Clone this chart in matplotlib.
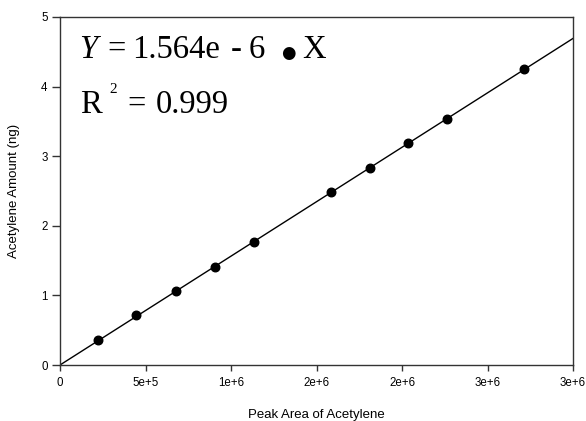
import matplotlib
matplotlib.use("Agg")
import matplotlib.pyplot as plt
import numpy as np
from matplotlib.ticker import FixedLocator, FixedFormatter

peak_area = [222e3, 444e3, 678e3, 906e3, 1134e3, 1585e3, 1813e3, 2035e3, 2263e3, 2713e3]
amount_ng = [0.36, 0.72, 1.06, 1.41, 1.77, 2.49, 2.83, 3.19, 3.53, 4.25]
slope = 1.564e-6
x_ticks = [0, 0.5e6, 1.0e6, 1.5e6, 2.0e6, 2.5e6, 3.0e6]
x_tick_labels = ["0", "5e+5", "1e+6", "2e+6", "2e+6", "3e+6", "3e+6"]
y_ticks = [0, 1, 2, 3, 4, 5]

plt.rcParams['font.family'] = ['Liberation Sans', 'DejaVu Sans']
fig = plt.figure(figsize=(5.86, 4.21), dpi=100)
ax = fig.add_axes([60/586, 1-365/421, 513/586, 348/421])

xl = np.array([0, 3.0e6])
ax.plot(xl, slope*xl, color='black', lw=1.0, zorder=2)
ax.scatter(peak_area, amount_ng, s=38, color='black', zorder=3)

ax.set_xlim(0, 3.0e6)
ax.set_ylim(0, 5)
ax.xaxis.set_major_locator(FixedLocator(x_ticks))
ax.xaxis.set_major_formatter(FixedFormatter(x_tick_labels))
ax.set_yticks(y_ticks)
ax.tick_params(direction='out', width=1, labelsize=8.3, color='#333333')
ax.tick_params(axis='x', length=4, pad=5)
ax.tick_params(axis='y', length=6, pad=3)
for s in ax.spines.values():
    s.set_linewidth(1.0)
    s.set_color('#333333')
ax.set_xlabel("Peak Area of Acetylene", fontsize=9.5, labelpad=14)
ax.set_ylabel("Acetylene Amount (ng)", fontsize=9.5, labelpad=10)
ax.yaxis.set_label_coords(-40/513, 0.5)

serif = ['Liberation Serif', 'DejaVu Serif']
fs = 23.5
yb = 1-58/421
fig.text(79/586, yb, "Y", fontsize=fs, family=serif, style='italic', ha='left', va='baseline')
fig.text(107/586, yb, "=", fontsize=fs, family=serif, ha='left', va='baseline')
fig.text(132/586, yb, "1.564e", fontsize=fs, family=serif, ha='left', va='baseline')
fig.text(231/586, yb, "-", fontsize=fs, family=serif, ha='left', va='baseline')
fig.text(249/586, yb, "6", fontsize=fs, family=serif, ha='left', va='baseline')
fig.text(288/586, yb, "\u25cf", fontsize=12, family=['DejaVu Sans'], ha='center', va='baseline')
fig.text(302/586, yb, "X", fontsize=fs, family=serif, ha='left', va='baseline')
rb = 1-113/421
fig.text(80/586, rb, "R", fontsize=fs, family=serif, ha='left', va='baseline')
fig.text(109/586, 1-93/421, "2", fontsize=11, family=serif, ha='left', va='baseline')
fig.text(127/586, rb, "=", fontsize=fs, family=serif, ha='left', va='baseline')
fig.text(156/586, rb, "0.999", fontsize=fs, family=serif, ha='left', va='baseline')

fig.savefig("out.png", dpi=100)
